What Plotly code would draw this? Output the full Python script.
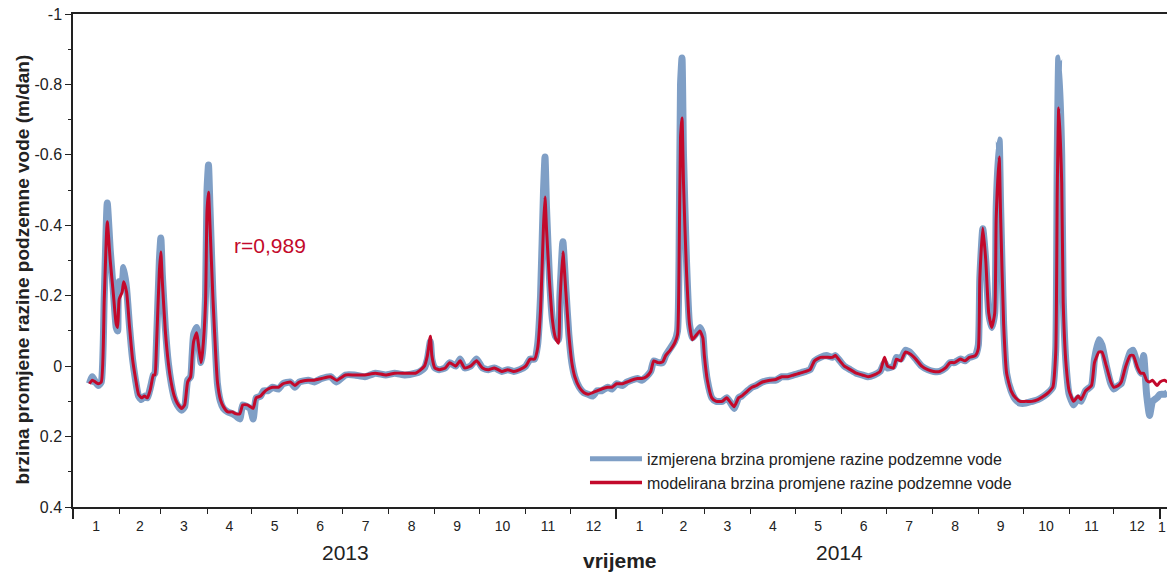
import plotly.graph_objects as go

# ---------------- data ----------------
dates_2013 = [
    "2013-01-12", "2013-01-14", "2013-01-16", "2013-01-18", "2013-01-20", "2013-01-22", "2013-01-24", "2013-01-26", "2013-01-28", "2013-01-30",
    "2013-01-31", "2013-02-01", "2013-02-03", "2013-02-04", "2013-02-06", "2013-02-08", "2013-02-10", "2013-02-12", "2013-02-14", "2013-02-16",
    "2013-02-18", "2013-02-20", "2013-02-22", "2013-02-24", "2013-02-25", "2013-02-26", "2013-02-28", "2013-03-01", "2013-03-02", "2013-03-04",
    "2013-03-06", "2013-03-08", "2013-03-10", "2013-03-12", "2013-03-15", "2013-03-17", "2013-03-19", "2013-03-21", "2013-03-22", "2013-03-23",
    "2013-03-25", "2013-03-26", "2013-03-28", "2013-03-29", "2013-03-31", "2013-04-01", "2013-04-02", "2013-04-03", "2013-04-05", "2013-04-07",
    "2013-04-08", "2013-04-10", "2013-04-12", "2013-04-15", "2013-04-18", "2013-04-20", "2013-04-23", "2013-04-25", "2013-04-28", "2013-04-30",
    "2013-05-02", "2013-05-04", "2013-05-07", "2013-05-09", "2013-05-12", "2013-05-15", "2013-05-19", "2013-05-22", "2013-05-27", "2013-05-30",
    "2013-06-02", "2013-06-08", "2013-06-12", "2013-06-17", "2013-06-23", "2013-06-27", "2013-07-03", "2013-07-09", "2013-07-16", "2013-07-23",
    "2013-07-30", "2013-08-05", "2013-08-12", "2013-08-19", "2013-08-22", "2013-08-25", "2013-08-27", "2013-08-29", "2013-08-30", "2013-09-01",
    "2013-09-04", "2013-09-08", "2013-09-11", "2013-09-15", "2013-09-18", "2013-09-21", "2013-09-25", "2013-09-29", "2013-10-03", "2013-10-07",
    "2013-10-11", "2013-10-16", "2013-10-20", "2013-10-24", "2013-10-28", "2013-11-01", "2013-11-04", "2013-11-07", "2013-11-09", "2013-11-11",
    "2013-11-13", "2013-11-14", "2013-11-15", "2013-11-17", "2013-11-19", "2013-11-21", "2013-11-23", "2013-11-24", "2013-11-26", "2013-11-28",
    "2013-11-30", "2013-12-02", "2013-12-04", "2013-12-07", "2013-12-10", "2013-12-13", "2013-12-16", "2013-12-19", "2013-12-22", "2013-12-26",
    "2013-12-29",
]
measured_2013 = [
    0.05, 0.03, 0.045, 0.055, 0.045, -0.2, -0.463, -0.33, -0.22, -0.11,
    -0.1, -0.24, -0.24, -0.28, -0.22, -0.11, -0.02, 0.04, 0.085, 0.095,
    0.085, 0.09, 0.06, 0.025, 0.02, -0.06, -0.3, -0.364, -0.26, -0.11,
    -0.01, 0.05, 0.09, 0.11, 0.125, 0.115, 0.04, 0.03, -0.03, -0.09,
    -0.11, -0.08, -0.01, -0.04, -0.2, -0.5, -0.571, -0.45, -0.2, -0.02,
    0.05, 0.1, 0.12, 0.13, 0.135, 0.14, 0.15, 0.11, 0.115, 0.12,
    0.15, 0.09, 0.085, 0.07, 0.07, 0.06, 0.065, 0.05, 0.045, 0.06,
    0.045, 0.04, 0.045, 0.035, 0.03, 0.045, 0.025, 0.025, 0.03, 0.02,
    0.025, 0.02, 0.025, 0.02, 0.015, 0.005, -0.02, -0.07, -0.02, 0.005,
    0.01, 0.005, -0.01, 0.0, -0.02, 0.005, 0.0, -0.02, 0.005, 0.01,
    0.005, 0.015, 0.01, 0.015, 0.01, 0.0, -0.02, -0.02, -0.06, -0.2,
    -0.5, -0.594, -0.45, -0.25, -0.13, -0.085, -0.075, -0.2, -0.353, -0.22,
    -0.09, -0.01, 0.03, 0.06, 0.075, 0.08, 0.085, 0.07, 0.07, 0.06,
    0.065,
]
modelled_2013 = [
    0.05, 0.04, 0.045, 0.05, 0.045, -0.19, -0.41, -0.3, -0.21, -0.12,
    -0.11, -0.19, -0.21, -0.24, -0.21, -0.11, -0.02, 0.035, 0.08, 0.09,
    0.085, 0.09, 0.065, 0.025, 0.025, -0.05, -0.27, -0.324, -0.24, -0.1,
    -0.01, 0.048, 0.085, 0.105, 0.12, 0.11, 0.045, 0.03, -0.025, -0.07,
    -0.095, -0.07, -0.01, -0.04, -0.18, -0.44, -0.494, -0.4, -0.19, -0.02,
    0.045, 0.095, 0.115, 0.13, 0.13, 0.135, 0.135, 0.11, 0.11, 0.115,
    0.12, 0.09, 0.085, 0.075, 0.065, 0.06, 0.06, 0.05, 0.045, 0.055,
    0.045, 0.04, 0.04, 0.035, 0.03, 0.04, 0.025, 0.025, 0.025, 0.02,
    0.025, 0.02, 0.02, 0.02, 0.012, 0.0, -0.03, -0.085, -0.03, 0.005,
    0.01, 0.005, -0.01, 0.0, -0.015, 0.005, 0.0, -0.015, 0.005, 0.01,
    0.005, 0.015, 0.01, 0.015, 0.01, 0.0, -0.02, -0.02, -0.05, -0.16,
    -0.4, -0.48, -0.39, -0.24, -0.13, -0.08, -0.065, -0.18, -0.324, -0.21,
    -0.09, -0.01, 0.03, 0.06, 0.075, 0.08, 0.075, 0.07, 0.065, 0.06,
    0.06,
]

dates_2014 = [
    "2014-01-01", "2014-01-05", "2014-01-08", "2014-01-11", "2014-01-15", "2014-01-18", "2014-01-21", "2014-01-24", "2014-01-26", "2014-01-29",
    "2014-02-01", "2014-02-03", "2014-02-06", "2014-02-09", "2014-02-11", "2014-02-12", "2014-02-13", "2014-02-14", "2014-02-15", "2014-02-17",
    "2014-02-19", "2014-02-21", "2014-02-23", "2014-02-26", "2014-02-28", "2014-03-01", "2014-03-03", "2014-03-06", "2014-03-09", "2014-03-13",
    "2014-03-16", "2014-03-18", "2014-03-21", "2014-03-24", "2014-03-26", "2014-03-30", "2014-04-02", "2014-04-05", "2014-04-09", "2014-04-14",
    "2014-04-18", "2014-04-22", "2014-04-26", "2014-04-30", "2014-05-04", "2014-05-08", "2014-05-11", "2014-05-14", "2014-05-18", "2014-05-22",
    "2014-05-26", "2014-05-28", "2014-05-31", "2014-06-03", "2014-06-07", "2014-06-11", "2014-06-15", "2014-06-19", "2014-06-23", "2014-06-27",
    "2014-06-30", "2014-07-02", "2014-07-06", "2014-07-08", "2014-07-11", "2014-07-14", "2014-07-17", "2014-07-21", "2014-07-25", "2014-07-29",
    "2014-08-02", "2014-08-06", "2014-08-10", "2014-08-13", "2014-08-16", "2014-08-20", "2014-08-23", "2014-08-26", "2014-08-30", "2014-09-01",
    "2014-09-02", "2014-09-04", "2014-09-06", "2014-09-08", "2014-09-10", "2014-09-12", "2014-09-13", "2014-09-15", "2014-09-16", "2014-09-18",
    "2014-09-20", "2014-09-23", "2014-09-26", "2014-09-29", "2014-10-03", "2014-10-07", "2014-10-11", "2014-10-15", "2014-10-18", "2014-10-21",
    "2014-10-23", "2014-10-24", "2014-10-25", "2014-10-27", "2014-10-28", "2014-10-30", "2014-11-01", "2014-11-04", "2014-11-07", "2014-11-09",
    "2014-11-12", "2014-11-16", "2014-11-18", "2014-11-21", "2014-11-23", "2014-11-26", "2014-11-29", "2014-12-01", "2014-12-04", "2014-12-06",
    "2014-12-09", "2014-12-12", "2014-12-14", "2014-12-17", "2014-12-19", "2014-12-21", "2014-12-23", "2014-12-25", "2014-12-27", "2014-12-30",
    "2015-01-01", "2015-01-04", "2015-01-06",
]
measured_2014 = [
    0.05, 0.055, 0.045, 0.04, 0.035, 0.04, 0.03, 0.015, -0.015, -0.01,
    -0.01, -0.03, -0.05, -0.07, -0.1, -0.3, -0.8, -0.875, -0.6, -0.3,
    -0.12, -0.08, -0.09, -0.11, -0.09, -0.03, 0.04, 0.09, 0.1, 0.1,
    0.09, 0.1, 0.12, 0.09, 0.085, 0.07, 0.06, 0.055, 0.045, 0.04,
    0.04, 0.03, 0.03, 0.025, 0.02, 0.015, 0.01, -0.015, -0.025, -0.03,
    -0.025, -0.03, -0.015, 0.0, 0.01, 0.02, 0.025, 0.03, 0.025, 0.015,
    -0.01, 0.005, 0.0, -0.025, -0.02, -0.045, -0.04, -0.02, 0.0, 0.01,
    0.015, 0.015, 0.005, -0.01, -0.01, -0.02, -0.015, -0.025, -0.03, -0.06,
    -0.25, -0.39, -0.3, -0.15, -0.11, -0.15, -0.45, -0.642, -0.45, -0.12,
    0.02, 0.07, 0.095, 0.105, 0.105, 0.1, 0.095, 0.085, 0.075, 0.06,
    -0.05, -0.6, -0.875, -0.6, -0.2, 0.0, 0.08, 0.11, 0.09, 0.1,
    0.07, 0.055, -0.02, -0.075, -0.06, 0.0, 0.05, 0.065, 0.055, 0.05,
    0.0, -0.04, -0.045, 0.0, 0.02, -0.03, 0.08, 0.14, 0.1, 0.09,
    0.08, 0.08, 0.075,
]
modelled_2014 = [
    0.05, 0.05, 0.045, 0.04, 0.035, 0.035, 0.03, 0.015, -0.015, -0.01,
    -0.012, -0.03, -0.045, -0.065, -0.09, -0.28, -0.65, -0.705, -0.52, -0.27,
    -0.12, -0.075, -0.085, -0.1, -0.08, -0.03, 0.04, 0.09, 0.1, 0.1,
    0.09, 0.1, 0.115, 0.09, 0.085, 0.07, 0.06, 0.055, 0.045, 0.04,
    0.038, 0.03, 0.03, 0.025, 0.02, 0.015, 0.01, -0.015, -0.025, -0.025,
    -0.025, -0.03, -0.015, 0.0, 0.01, 0.02, 0.025, 0.03, 0.025, 0.015,
    -0.025, 0.0, 0.005, -0.02, -0.015, -0.04, -0.035, -0.02, 0.0, 0.01,
    0.015, 0.015, 0.005, -0.01, -0.01, -0.02, -0.015, -0.025, -0.03, -0.05,
    -0.25, -0.392, -0.3, -0.15, -0.11, -0.15, -0.42, -0.594, -0.42, -0.12,
    0.02, 0.07, 0.09, 0.1, 0.1, 0.1, 0.095, 0.085, 0.075, 0.06,
    -0.04, -0.5, -0.733, -0.52, -0.18, 0.0, 0.07, 0.1, 0.085, 0.095,
    0.07, 0.055, -0.01, -0.04, -0.04, 0.0, 0.045, 0.06, 0.055, 0.045,
    0.0, -0.03, -0.03, 0.005, 0.02, 0.02, 0.04, 0.045, 0.04, 0.055,
    0.045, 0.04, 0.045,
]

y_tick_values = [-1.0, -0.8, -0.6, -0.4, -0.2, 0.0, 0.2, 0.4]
y_tick_labels = ["-1", "-0.8", "-0.6", "-0.4", "-0.2", "0", "0.2", "0.4"]
y_minor_values = [-0.9, -0.7, -0.5, -0.3, -0.1, 0.1, 0.3]
year_starts = ["2013-01-01", "2014-01-01", "2015-01-01"]
year_labels = ["2013", "2014"]
year_label_pos = ["2013-07-03", "2014-05-31"]
x_range = ["2013-01-01", "2015-01-05 17:00"]

name_measured = "izmjerena brzina promjene razine podzemne vode"
name_modelled = "modelirana brzina promjene razine podzemne vode"

dates = dates_2013 + dates_2014
measured = measured_2013 + measured_2014
modelled = modelled_2013 + modelled_2014
assert len(dates) == len(measured) == len(modelled)

FONT = "Liberation Sans, Arial, sans-serif"
AX = "#222222"
BLUE = "#7f9fc6"
RED = "#c3092b"

fig = go.Figure()
fig.add_trace(go.Scatter(x=dates, y=measured, mode="lines", name=name_measured,
                         showlegend=False,
                         line=dict(color=BLUE, width=7, shape="spline", smoothing=0.5)))
fig.add_trace(go.Scatter(x=dates, y=modelled, mode="lines", name=name_modelled,
                         showlegend=False,
                         line=dict(color=RED, width=3, shape="spline", smoothing=0.5)))
# legend-only entries (thinner sample lines, as in the reference legend)
fig.add_trace(go.Scatter(x=[None], y=[None], mode="lines", name=name_measured,
                         line=dict(color=BLUE, width=5), hoverinfo="skip"))
fig.add_trace(go.Scatter(x=[None], y=[None], mode="lines", name=name_modelled,
                         line=dict(color=RED, width=3.5), hoverinfo="skip"))
# helper trace to carry the overlay axis with year ticks
fig.add_trace(go.Scatter(x=[year_starts[0]], y=[None], xaxis="x2", mode="lines",
                         showlegend=False, hoverinfo="skip"))

annotations = []
for lab, pos in zip(year_labels, year_label_pos):
    annotations.append(dict(x=pos, y=-0.0913, xref="x", yref="paper", text=lab,
                            showarrow=False, xanchor="center", yanchor="middle",
                            font=dict(size=21, color=AX, family=FONT)))
annotations.append(dict(x="2015-01-02 10:00", y=-0.0406, xref="x", yref="paper", text="1",
                        showarrow=False, xanchor="center", yanchor="middle",
                        font=dict(size=14, color=AX, family=FONT)))
annotations.append(dict(x=0.5, y=-0.1095, xref="paper", yref="paper", text="<b>vrijeme</b>",
                        showarrow=False, xanchor="center", yanchor="middle",
                        font=dict(size=21, color=AX, family=FONT)))
annotations.append(dict(x=-0.0466, y=0.482, xref="paper", yref="paper",
                        text="<b>brzina promjene razine podzemne vode (m/dan)</b>",
                        textangle=-90, showarrow=False, xanchor="center", yanchor="middle",
                        font=dict(size=19, color=AX, family=FONT)))
annotations.append(dict(x="2013-05-13", y=-0.344, xref="x", yref="y", text="r=0,989",
                        showarrow=False, xanchor="center", yanchor="middle",
                        font=dict(size=21, color=RED, family=FONT)))

fig.update_layout(
    width=1167, height=573,
    margin=dict(l=73, r=0, t=14, b=66),
    paper_bgcolor="white", plot_bgcolor="white",
    font=dict(family=FONT, size=14, color=AX),
    showlegend=True,
    legend=dict(x=0.468, y=0.132, xanchor="left", yanchor="top",
                bgcolor="rgba(0,0,0,0)", font=dict(size=16, color=AX, family=FONT),
                itemwidth=52, tracegroupgap=0),
    xaxis=dict(type="date", range=x_range, tickmode="linear", tick0="2013-01-01",
               dtick="M1", tickformat="%-m", ticklabelmode="period",
               ticks="outside", ticklen=5, tickwidth=1, tickcolor=AX,
               showline=True, linecolor=AX, linewidth=1.5, mirror=True,
               showgrid=False, zeroline=False, tickfont=dict(size=14, color=AX)),
    xaxis2=dict(type="date", overlaying="x", anchor="y", side="bottom", range=x_range,
                tickmode="array", tickvals=year_starts, ticks="outside", ticklen=11,
                tickwidth=1.5, tickcolor=AX, showticklabels=False, showline=False,
                showgrid=False, zeroline=False),
    yaxis=dict(range=[0.4, -1.0], tickmode="array", tickvals=y_tick_values,
               ticktext=y_tick_labels, ticks="outside", ticklen=6, tickwidth=1,
               tickcolor=AX,
               minor=dict(tickmode="array", tickvals=y_minor_values, ticks="outside",
                          ticklen=3, tickcolor=AX, showgrid=False),
               showline=True, linecolor=AX, linewidth=1.5, showgrid=False,
               zeroline=False, tickfont=dict(size=16, color=AX)),
    annotations=annotations,
)

fig.write_html("out.html", config={"displayModeBar": False},
               post_script="document.body.style.margin='0px';")
